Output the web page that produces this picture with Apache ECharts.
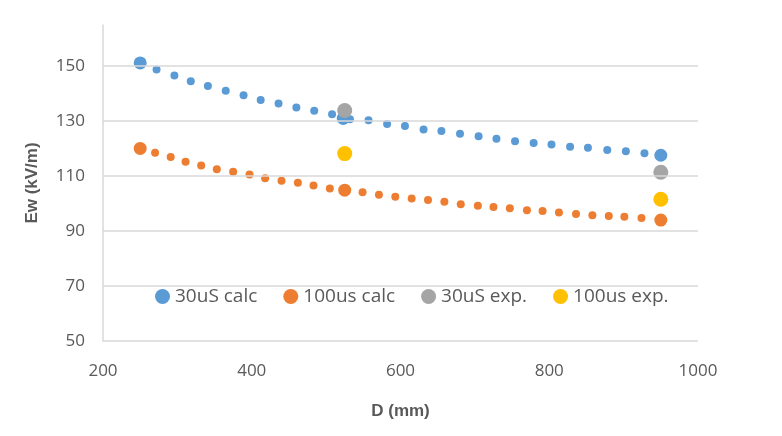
<!DOCTYPE html>
<html><head><meta charset="utf-8">
<script src="https://cdn.jsdelivr.net/npm/echarts@6/dist/echarts.min.js"></script>
<style>html,body{margin:0;padding:0;background:#fff}#c{width:782px;height:436px}</style>
</head><body><div id="c"></div>
<script>
const calc30X = [250,272,296,318,341,365,389,412,436,460,484,508,523,532,557,582,606,631,655,680,705,729,754,779,803,828,852,878,903,928,950];
const calc30Y = [151.2,148.8,146.6,144.5,142.8,141.1,139.4,137.7,136.4,135,133.8,132.5,131.0,130.7,130.3,129,128.2,127,126.4,125.4,124.5,123.6,122.7,122.1,121.5,120.7,120.3,119.5,119.1,118.3,117.6];
const calc100X = [250,270,291,311,332,353,375,397,418,440,462,483,505,525,549,571,593,615,637,659,681,704,725,747,770,791,813,836,858,880,901,924,950];
const calc100Y = [120.1,118.5,117,115.2,113.9,112.5,111.6,110.6,109.2,108.3,107.6,106.6,105.5,104.9,104.1,103.2,102.5,101.9,101.3,100.7,99.8,99.2,98.8,98.3,97.6,97.3,96.8,96.2,95.8,95.5,95.2,94.8,94.0];
const exp30X = [525,950];
const exp30Y = [133.9,111.4];
const exp100X = [525,950];
const exp100Y = [118.2,101.6];
const bigX = [250,523,525,950];
const yTicks = [50,70,90,110,130,150];
const xTicks = [200,400,600,800,1000];
const names = ['30uS calc','100us calc','30uS exp.','100us exp.'];

const pts = (xs, ys) => xs.map((x,i)=>({value:[x,ys[i]], symbolSize: bigX.includes(x) ? 13 : 8}));
const txt = '#595959';
const chart = echarts.init(document.getElementById('c'));
chart.setOption({
  animation:false,
  color:['#5B9BD5','#ED7D31','#A5A5A5','#FFC000'],
  grid:{left:103,right:84,top:25,bottom:95},
  legend:{data:names, left:150, top:282, icon:'circle', itemWidth:15, itemHeight:15, itemGap:26,
    textStyle:{color:txt, fontSize:19, fontFamily:'Open Sans'}},
  xAxis:{type:'value', min:200, max:1000, interval:200, name:'D (mm)', nameLocation:'middle', nameGap:62,
    nameTextStyle:{color:txt, fontSize:17, fontWeight:'bold'},
    axisLine:{show:false}, axisTick:{show:false}, splitLine:{show:false},
    axisLabel:{color:txt, fontSize:17, margin:22, fontFamily:'Open Sans', formatter:v=>String(v)}},
  yAxis:{type:'value', min:50, max:165, interval:10, name:'Ew (kV/m)', nameLocation:'middle', nameGap:62, nameRotate:90,
    nameTextStyle:{color:txt, fontSize:17, fontWeight:'bold'},
    axisLine:{show:true, lineStyle:{color:'#d9d9d9', width:1.5}}, axisTick:{show:false}, splitLine:{show:false},
    axisLabel:{color:txt, fontSize:17, margin:18, fontFamily:'Open Sans', formatter:v=>yTicks.includes(v)?String(v):''}},
  series:[
    {name:names[0], type:'scatter', data:pts(calc30X,calc30Y), z:3, itemStyle:{opacity:1},
     markLine:{silent:true, symbol:'none', label:{show:false}, lineStyle:{color:'#d9d9d9', width:1.5, type:'solid'},
       data:yTicks.map(v=>({yAxis:v}))}},
    {name:names[1], type:'scatter', data:pts(calc100X,calc100Y), z:3, itemStyle:{opacity:1}},
    {name:names[2], type:'scatter', symbolSize:15, data:exp30X.map((x,i)=>[x,exp30Y[i]]), z:4, itemStyle:{opacity:1}},
    {name:names[3], type:'scatter', symbolSize:15, data:exp100X.map((x,i)=>[x,exp100Y[i]]), z:4, itemStyle:{opacity:1}}
  ]
});
</script></body></html>
